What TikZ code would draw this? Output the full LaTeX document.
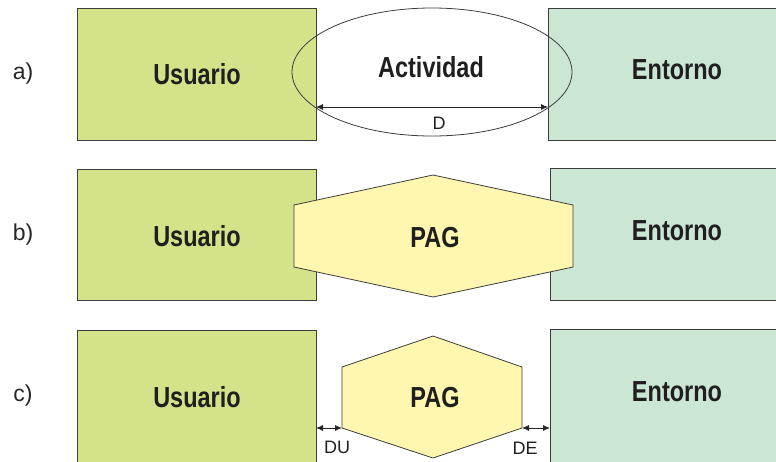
\documentclass[tikz,border=0pt]{standalone}
\usepackage{fontspec}
\setmainfont{Liberation Sans}
\newfontfamily\narrowb[FakeStretch=0.81]{Liberation Sans Bold}
\usetikzlibrary{arrows.meta}
\definecolor{usr}{RGB}{212,226,138}
\definecolor{ent}{RGB}{204,230,212}
\definecolor{pag}{RGB}{255,247,176}
\definecolor{edge}{RGB}{60,60,60}
\begin{document}
\begin{tikzpicture}[x=1pt,y=-1pt,
  usrbox/.style={draw=edge,fill=usr,line width=0.8pt},
  entbox/.style={draw=edge,fill=ent,line width=0.8pt},
  hexa/.style={draw=edge,fill=pag,line width=0.8pt},
  title/.style={anchor=base,inner sep=0pt,font=\narrowb\fontsize{29}{32}\selectfont,text=black!88},
  rowlab/.style={anchor=base,inner sep=0pt,font=\fontsize{23}{26}\selectfont,text=black!85},
  dimlab/.style={anchor=base,inner sep=0pt,font=\fontsize{18}{20}\selectfont,text=black!88},
  dimarrow/.style={{Latex[length=7pt,width=6pt]}-{Latex[length=7pt,width=6pt]},line width=0.8pt,draw=black!85}]
\useasboundingbox (0,0) rectangle (776,461);
% row a
\draw[usrbox] (77,8) rectangle (316,140);
\draw[entbox] (548,8) rectangle (777,140);
\draw[line width=0.8pt,draw=edge] (432,72) ellipse [x radius=140,y radius=64];
\node[title] (ua) at (197,84) {Usuario};
\node[title] (ea) at (677,79) {Entorno};
\node[title] (act) at (431,77) {Actividad};
\coordinate (dl) at (316,107);
\coordinate (dr) at (548,107);
\draw[dimarrow] (dl) -- (dr);
\node[dimlab] (d) at (439,129) {D};
\node[rowlab] (la) at (23,79) {a)};
% row b
\draw[usrbox] (77,169) rectangle (316,300);
\draw[entbox] (550,168) rectangle (777,300);
\draw[hexa] (433,175) -- (573,205) -- (573,267) -- (433,297) -- (294,267) -- (294,205) -- cycle;
\node[title] (ub) at (197,246) {Usuario};
\node[title] (eb) at (677,240) {Entorno};
\node[title] (pb) at (435,247) {PAG};
\node[rowlab] (lb) at (23,240) {b)};
% row c
\draw[usrbox] (77,330) rectangle (316,462);
\draw[entbox] (550,329) rectangle (777,462);
\draw[hexa] (433,336) -- (522,367) -- (522,428) -- (433,458) -- (342,428) -- (342,367) -- cycle;
\node[title] (uc) at (197,407) {Usuario};
\node[title] (ec) at (677,401) {Entorno};
\node[title] (pc) at (435,407) {PAG};
\node[rowlab] (lc) at (23,401) {c)};
\coordinate (dul) at (316,428);
\coordinate (dur) at (342,428);
\coordinate (del) at (522,428);
\coordinate (der) at (550,428);
\draw[dimarrow] (dul) -- (dur);
\draw[dimarrow] (del) -- (der);
\node[dimlab] (du) at (337,453) {DU};
\node[dimlab] (de) at (525,454) {DE};
\end{tikzpicture}
\end{document}
